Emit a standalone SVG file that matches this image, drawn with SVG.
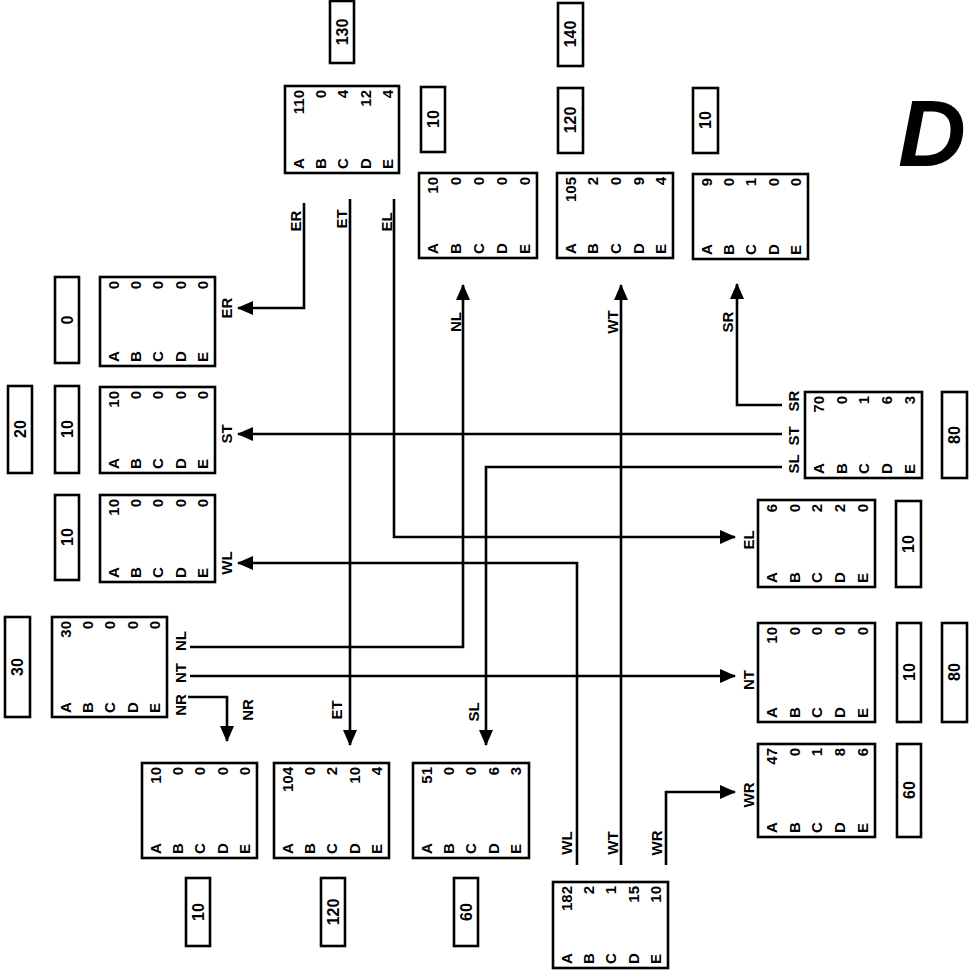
<svg xmlns="http://www.w3.org/2000/svg" width="972" height="972" viewBox="0 0 972 972">
<style>
.box{fill:#fff;stroke:#000;stroke-width:2.6}
.v{font-family:"Liberation Sans",Arial,sans-serif;font-weight:bold;font-size:15px;dominant-baseline:central;fill:#000}
.l{text-anchor:start}
.n{text-anchor:end}
.lb{font-family:"Liberation Sans",Arial,sans-serif;font-weight:bold;font-size:16px;dominant-baseline:central;text-anchor:middle;fill:#000}
.cl{font-family:"Liberation Sans",Arial,sans-serif;font-weight:bold;font-size:15px;dominant-baseline:central;text-anchor:middle;fill:#000}
.c{fill:none;stroke:#000;stroke-width:2.6}
.ca{fill:none;stroke:#000;stroke-width:2.6;marker-end:url(#ah)}
</style>
<defs>
<marker id="ah" markerUnits="userSpaceOnUse" markerWidth="16" markerHeight="14" refX="15" refY="7" orient="auto">
<path d="M0,0 L16,7 L0,14 z" fill="#000"/>
</marker>
</defs>
<rect width="972" height="972" fill="#fff"/>

<!-- value label boxes -->
<g id="labels">
<g transform="translate(330,1)"><rect class="box" width="24" height="62"/><text class="lb" transform="translate(12,31) rotate(-90)">130</text></g>
<g transform="translate(421,87)"><rect class="box" width="24" height="65"/><text class="lb" transform="translate(12,32) rotate(-90)">10</text></g>
<g transform="translate(558,3)"><rect class="box" width="25" height="63"/><text class="lb" transform="translate(12.5,31) rotate(-90)">140</text></g>
<g transform="translate(558,88)"><rect class="box" width="25" height="65"/><text class="lb" transform="translate(12.5,32) rotate(-90)">120</text></g>
<g transform="translate(693,88)"><rect class="box" width="25" height="65"/><text class="lb" transform="translate(12.5,32) rotate(-90)">10</text></g>
<g transform="translate(55,277)"><rect class="box" width="24" height="86"/><text class="lb" transform="translate(12,43) rotate(-90)">0</text></g>
<g transform="translate(8,386)"><rect class="box" width="24" height="87"/><text class="lb" transform="translate(12,43) rotate(-90)">20</text></g>
<g transform="translate(55,386)"><rect class="box" width="24" height="87"/><text class="lb" transform="translate(12,43) rotate(-90)">10</text></g>
<g transform="translate(55,495)"><rect class="box" width="24" height="85"/><text class="lb" transform="translate(12,42) rotate(-90)">10</text></g>
<g transform="translate(5,617)"><rect class="box" width="25" height="100"/><text class="lb" transform="translate(12.5,50) rotate(-90)">30</text></g>
<g transform="translate(186,878)"><rect class="box" width="24" height="68"/><text class="lb" transform="translate(12,34) rotate(-90)">10</text></g>
<g transform="translate(321,878)"><rect class="box" width="24" height="68"/><text class="lb" transform="translate(12,34) rotate(-90)">120</text></g>
<g transform="translate(454,878)"><rect class="box" width="24" height="68"/><text class="lb" transform="translate(12,34) rotate(-90)">60</text></g>
<g transform="translate(942,392)"><rect class="box" width="25" height="86"/><text class="lb" transform="translate(12.5,43) rotate(-90)">80</text></g>
<g transform="translate(896,501)"><rect class="box" width="25" height="86"/><text class="lb" transform="translate(12.5,43) rotate(-90)">10</text></g>
<g transform="translate(897,623)"><rect class="box" width="24" height="99"/><text class="lb" transform="translate(12,49) rotate(-90)">10</text></g>
<g transform="translate(942,623)"><rect class="box" width="25" height="99"/><text class="lb" transform="translate(12.5,49) rotate(-90)">80</text></g>
<g transform="translate(897,744)"><rect class="box" width="24" height="93"/><text class="lb" transform="translate(12,46) rotate(-90)">60</text></g>
</g>

<!-- nodes -->
<g id="node-e" transform="translate(285,86)"><rect class="box" width="114" height="87"/>
<text class="v l" transform="translate(13,83) rotate(-90)">A</text><text class="v l" transform="translate(35,83) rotate(-90)">B</text><text class="v l" transform="translate(57,83) rotate(-90)">C</text><text class="v l" transform="translate(80,83) rotate(-90)">D</text><text class="v l" transform="translate(102,83) rotate(-90)">E</text>
<text class="v n" transform="translate(13,4) rotate(-90)">110</text><text class="v n" transform="translate(35,4) rotate(-90)">0</text><text class="v n" transform="translate(57,4) rotate(-90)">4</text><text class="v n" transform="translate(80,4) rotate(-90)">12</text><text class="v n" transform="translate(102,4) rotate(-90)">4</text></g>

<g id="node-nl" transform="translate(419,173)"><rect class="box" width="118" height="85"/>
<text class="v l" transform="translate(13,81) rotate(-90)">A</text><text class="v l" transform="translate(36,81) rotate(-90)">B</text><text class="v l" transform="translate(59,81) rotate(-90)">C</text><text class="v l" transform="translate(82,81) rotate(-90)">D</text><text class="v l" transform="translate(105,81) rotate(-90)">E</text>
<text class="v n" transform="translate(13,4) rotate(-90)">10</text><text class="v n" transform="translate(36,4) rotate(-90)">0</text><text class="v n" transform="translate(59,4) rotate(-90)">0</text><text class="v n" transform="translate(82,4) rotate(-90)">0</text><text class="v n" transform="translate(105,4) rotate(-90)">0</text></g>

<g id="node-wt" transform="translate(557,173)"><rect class="box" width="116" height="85"/>
<text class="v l" transform="translate(13,81) rotate(-90)">A</text><text class="v l" transform="translate(35,81) rotate(-90)">B</text><text class="v l" transform="translate(58,81) rotate(-90)">C</text><text class="v l" transform="translate(81,81) rotate(-90)">D</text><text class="v l" transform="translate(103,81) rotate(-90)">E</text>
<text class="v n" transform="translate(13,4) rotate(-90)">105</text><text class="v n" transform="translate(35,4) rotate(-90)">2</text><text class="v n" transform="translate(58,4) rotate(-90)">0</text><text class="v n" transform="translate(81,4) rotate(-90)">9</text><text class="v n" transform="translate(103,4) rotate(-90)">4</text></g>

<g id="node-sr" transform="translate(693,174)"><rect class="box" width="115" height="85"/>
<text class="v l" transform="translate(13,81) rotate(-90)">A</text><text class="v l" transform="translate(35,81) rotate(-90)">B</text><text class="v l" transform="translate(57,81) rotate(-90)">C</text><text class="v l" transform="translate(80,81) rotate(-90)">D</text><text class="v l" transform="translate(102,81) rotate(-90)">E</text>
<text class="v n" transform="translate(13,4) rotate(-90)">9</text><text class="v n" transform="translate(35,4) rotate(-90)">0</text><text class="v n" transform="translate(57,4) rotate(-90)">1</text><text class="v n" transform="translate(80,4) rotate(-90)">0</text><text class="v n" transform="translate(102,4) rotate(-90)">0</text></g>

<g id="node-er" transform="translate(100,277)"><rect class="box" width="115" height="89"/>
<text class="v l" transform="translate(13,85) rotate(-90)">A</text><text class="v l" transform="translate(35,85) rotate(-90)">B</text><text class="v l" transform="translate(57,85) rotate(-90)">C</text><text class="v l" transform="translate(80,85) rotate(-90)">D</text><text class="v l" transform="translate(102,85) rotate(-90)">E</text>
<text class="v n" transform="translate(13,4) rotate(-90)">0</text><text class="v n" transform="translate(35,4) rotate(-90)">0</text><text class="v n" transform="translate(57,4) rotate(-90)">0</text><text class="v n" transform="translate(80,4) rotate(-90)">0</text><text class="v n" transform="translate(102,4) rotate(-90)">0</text></g>

<g id="node-st" transform="translate(100,387)"><rect class="box" width="115" height="86"/>
<text class="v l" transform="translate(13,82) rotate(-90)">A</text><text class="v l" transform="translate(35,82) rotate(-90)">B</text><text class="v l" transform="translate(57,82) rotate(-90)">C</text><text class="v l" transform="translate(80,82) rotate(-90)">D</text><text class="v l" transform="translate(102,82) rotate(-90)">E</text>
<text class="v n" transform="translate(13,4) rotate(-90)">10</text><text class="v n" transform="translate(35,4) rotate(-90)">0</text><text class="v n" transform="translate(57,4) rotate(-90)">0</text><text class="v n" transform="translate(80,4) rotate(-90)">0</text><text class="v n" transform="translate(102,4) rotate(-90)">0</text></g>

<g id="node-wl" transform="translate(100,495)"><rect class="box" width="115" height="87"/>
<text class="v l" transform="translate(13,83) rotate(-90)">A</text><text class="v l" transform="translate(35,83) rotate(-90)">B</text><text class="v l" transform="translate(57,83) rotate(-90)">C</text><text class="v l" transform="translate(80,83) rotate(-90)">D</text><text class="v l" transform="translate(102,83) rotate(-90)">E</text>
<text class="v n" transform="translate(13,4) rotate(-90)">10</text><text class="v n" transform="translate(35,4) rotate(-90)">0</text><text class="v n" transform="translate(57,4) rotate(-90)">0</text><text class="v n" transform="translate(80,4) rotate(-90)">0</text><text class="v n" transform="translate(102,4) rotate(-90)">0</text></g>

<g id="node-n" transform="translate(52,617)"><rect class="box" width="115" height="100"/>
<text class="v l" transform="translate(13,96) rotate(-90)">A</text><text class="v l" transform="translate(35,96) rotate(-90)">B</text><text class="v l" transform="translate(57,96) rotate(-90)">C</text><text class="v l" transform="translate(80,96) rotate(-90)">D</text><text class="v l" transform="translate(102,96) rotate(-90)">E</text>
<text class="v n" transform="translate(13,4) rotate(-90)">30</text><text class="v n" transform="translate(35,4) rotate(-90)">0</text><text class="v n" transform="translate(57,4) rotate(-90)">0</text><text class="v n" transform="translate(80,4) rotate(-90)">0</text><text class="v n" transform="translate(102,4) rotate(-90)">0</text></g>

<g id="node-nr" transform="translate(142,763)"><rect class="box" width="115" height="95"/>
<text class="v l" transform="translate(13,91) rotate(-90)">A</text><text class="v l" transform="translate(35,91) rotate(-90)">B</text><text class="v l" transform="translate(57,91) rotate(-90)">C</text><text class="v l" transform="translate(80,91) rotate(-90)">D</text><text class="v l" transform="translate(102,91) rotate(-90)">E</text>
<text class="v n" transform="translate(13,4) rotate(-90)">10</text><text class="v n" transform="translate(35,4) rotate(-90)">0</text><text class="v n" transform="translate(57,4) rotate(-90)">0</text><text class="v n" transform="translate(80,4) rotate(-90)">0</text><text class="v n" transform="translate(102,4) rotate(-90)">0</text></g>

<g id="node-et" transform="translate(274,763)"><rect class="box" width="115" height="95"/>
<text class="v l" transform="translate(13,91) rotate(-90)">A</text><text class="v l" transform="translate(35,91) rotate(-90)">B</text><text class="v l" transform="translate(57,91) rotate(-90)">C</text><text class="v l" transform="translate(80,91) rotate(-90)">D</text><text class="v l" transform="translate(102,91) rotate(-90)">E</text>
<text class="v n" transform="translate(13,4) rotate(-90)">104</text><text class="v n" transform="translate(35,4) rotate(-90)">0</text><text class="v n" transform="translate(57,4) rotate(-90)">2</text><text class="v n" transform="translate(80,4) rotate(-90)">10</text><text class="v n" transform="translate(102,4) rotate(-90)">4</text></g>

<g id="node-sl" transform="translate(413,763)"><rect class="box" width="116" height="95"/>
<text class="v l" transform="translate(13,91) rotate(-90)">A</text><text class="v l" transform="translate(35,91) rotate(-90)">B</text><text class="v l" transform="translate(57,91) rotate(-90)">C</text><text class="v l" transform="translate(80,91) rotate(-90)">D</text><text class="v l" transform="translate(102,91) rotate(-90)">E</text>
<text class="v n" transform="translate(13,4) rotate(-90)">51</text><text class="v n" transform="translate(35,4) rotate(-90)">0</text><text class="v n" transform="translate(57,4) rotate(-90)">0</text><text class="v n" transform="translate(80,4) rotate(-90)">6</text><text class="v n" transform="translate(102,4) rotate(-90)">3</text></g>

<g id="node-w" transform="translate(553,882)"><rect class="box" width="115" height="86"/>
<text class="v l" transform="translate(13,82) rotate(-90)">A</text><text class="v l" transform="translate(35,82) rotate(-90)">B</text><text class="v l" transform="translate(57,82) rotate(-90)">C</text><text class="v l" transform="translate(80,82) rotate(-90)">D</text><text class="v l" transform="translate(102,82) rotate(-90)">E</text>
<text class="v n" transform="translate(13,4) rotate(-90)">182</text><text class="v n" transform="translate(35,4) rotate(-90)">2</text><text class="v n" transform="translate(57,4) rotate(-90)">1</text><text class="v n" transform="translate(80,4) rotate(-90)">15</text><text class="v n" transform="translate(102,4) rotate(-90)">10</text></g>

<g id="node-s" transform="translate(805,392)"><rect class="box" width="117" height="86"/>
<text class="v l" transform="translate(13,82) rotate(-90)">A</text><text class="v l" transform="translate(36,82) rotate(-90)">B</text><text class="v l" transform="translate(58,82) rotate(-90)">C</text><text class="v l" transform="translate(81,82) rotate(-90)">D</text><text class="v l" transform="translate(104,82) rotate(-90)">E</text>
<text class="v n" transform="translate(13,4) rotate(-90)">70</text><text class="v n" transform="translate(36,4) rotate(-90)">0</text><text class="v n" transform="translate(58,4) rotate(-90)">1</text><text class="v n" transform="translate(81,4) rotate(-90)">6</text><text class="v n" transform="translate(104,4) rotate(-90)">3</text></g>

<g id="node-el" transform="translate(758,500)"><rect class="box" width="117" height="87"/>
<text class="v l" transform="translate(13,83) rotate(-90)">A</text><text class="v l" transform="translate(36,83) rotate(-90)">B</text><text class="v l" transform="translate(58,83) rotate(-90)">C</text><text class="v l" transform="translate(81,83) rotate(-90)">D</text><text class="v l" transform="translate(104,83) rotate(-90)">E</text>
<text class="v n" transform="translate(13,4) rotate(-90)">6</text><text class="v n" transform="translate(36,4) rotate(-90)">0</text><text class="v n" transform="translate(58,4) rotate(-90)">2</text><text class="v n" transform="translate(81,4) rotate(-90)">2</text><text class="v n" transform="translate(104,4) rotate(-90)">0</text></g>

<g id="node-nt" transform="translate(758,623)"><rect class="box" width="117" height="99"/>
<text class="v l" transform="translate(13,95) rotate(-90)">A</text><text class="v l" transform="translate(36,95) rotate(-90)">B</text><text class="v l" transform="translate(58,95) rotate(-90)">C</text><text class="v l" transform="translate(81,95) rotate(-90)">D</text><text class="v l" transform="translate(104,95) rotate(-90)">E</text>
<text class="v n" transform="translate(13,4) rotate(-90)">10</text><text class="v n" transform="translate(36,4) rotate(-90)">0</text><text class="v n" transform="translate(58,4) rotate(-90)">0</text><text class="v n" transform="translate(81,4) rotate(-90)">0</text><text class="v n" transform="translate(104,4) rotate(-90)">0</text></g>

<g id="node-wr" transform="translate(758,744)"><rect class="box" width="117" height="93"/>
<text class="v l" transform="translate(13,89) rotate(-90)">A</text><text class="v l" transform="translate(36,89) rotate(-90)">B</text><text class="v l" transform="translate(58,89) rotate(-90)">C</text><text class="v l" transform="translate(81,89) rotate(-90)">D</text><text class="v l" transform="translate(104,89) rotate(-90)">E</text>
<text class="v n" transform="translate(13,4) rotate(-90)">47</text><text class="v n" transform="translate(36,4) rotate(-90)">0</text><text class="v n" transform="translate(58,4) rotate(-90)">1</text><text class="v n" transform="translate(81,4) rotate(-90)">8</text><text class="v n" transform="translate(104,4) rotate(-90)">6</text></g>

<!-- connectors -->
<g id="connectors">
<path class="ca" d="M304,203 V308 H238"/>
<path class="ca" d="M350,199 V745"/>
<path class="ca" d="M394,199 V537 H735"/>
<path class="ca" d="M190,647 H463 V285"/>
<path class="ca" d="M190,676 H735"/>
<path class="ca" d="M188,697 H227 V741"/>
<path class="ca" d="M782,405 H737 V284"/>
<path class="ca" d="M782,434 H238"/>
<path class="ca" d="M782,467 H486 V745"/>
<path class="ca" d="M577,865 V563 H238"/>
<path class="ca" d="M621,865 V285"/>
<path class="ca" d="M666,865 V792 H735"/>
</g>

<!-- connector labels -->
<g id="connector-labels">
<text class="cl" transform="translate(295,221) rotate(-90)">ER</text>
<text class="cl" transform="translate(341,219) rotate(-90)">ET</text>
<text class="cl" transform="translate(386,222) rotate(-90)">EL</text>
<text class="cl" transform="translate(455,322) rotate(-90)">NL</text>
<text class="cl" transform="translate(612,322) rotate(-90)">WT</text>
<text class="cl" transform="translate(727,322) rotate(-90)">SR</text>
<text class="cl" transform="translate(226,308) rotate(-90)">ER</text>
<text class="cl" transform="translate(226,434) rotate(-90)">ST</text>
<text class="cl" transform="translate(226,563) rotate(-90)">WL</text>
<text class="cl" transform="translate(180,705) rotate(-90)">NR</text>
<text class="cl" transform="translate(180,673) rotate(-90)">NT</text>
<text class="cl" transform="translate(180,641) rotate(-90)">NL</text>
<text class="cl" transform="translate(247,710) rotate(-90)">NR</text>
<text class="cl" transform="translate(336,710) rotate(-90)">ET</text>
<text class="cl" transform="translate(473,712) rotate(-90)">SL</text>
<text class="cl" transform="translate(566,843) rotate(-90)">WL</text>
<text class="cl" transform="translate(612,843) rotate(-90)">WT</text>
<text class="cl" transform="translate(656,843) rotate(-90)">WR</text>
<text class="cl" transform="translate(793,401) rotate(-90)">SR</text>
<text class="cl" transform="translate(793,436) rotate(-90)">ST</text>
<text class="cl" transform="translate(793,464) rotate(-90)">SL</text>
<text class="cl" transform="translate(748,540) rotate(-90)">EL</text>
<text class="cl" transform="translate(748,680) rotate(-90)">NT</text>
<text class="cl" transform="translate(748,795) rotate(-90)">WR</text>
</g>

<text x="898" y="166" font-family="Liberation Sans, Arial, sans-serif" font-weight="bold" font-style="italic" font-size="94" fill="#000">D</text>
</svg>
